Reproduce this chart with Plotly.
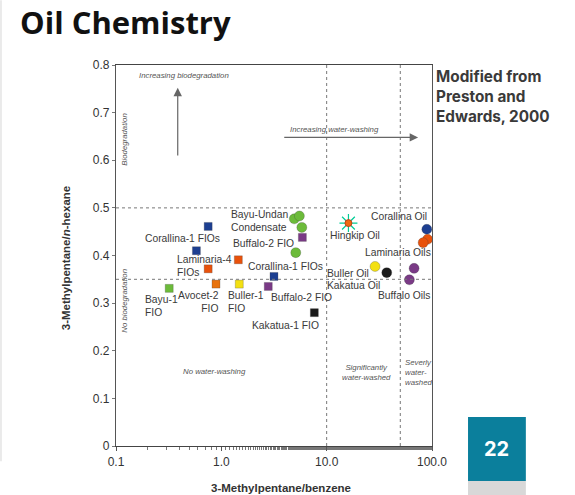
import math
import plotly.graph_objects as go

# ---- data: fluid-inclusion oils (squares) ----
fio_field = ["Corallina-1", "Corallina-1", "Laminaria-4", "Laminaria-4", "Avocet-2",
             "Buller-1", "Bayu-1", "Buffalo-2", "Corallina-1", "Buffalo-2", "Kakatua-1"]
fio_mp_benzene = [0.75, 0.58, 1.45, 0.75, 0.89, 1.48, 0.32, 2.79, 3.16, 5.88, 7.64]
fio_mp_hexane = [0.461, 0.410, 0.391, 0.372, 0.340, 0.340, 0.331, 0.335, 0.356, 0.438, 0.280]

# ---- data: produced oils and condensate (circles) ----
oil_field = ["Bayu-Undan", "Bayu-Undan", "Bayu-Undan", "Bayu-Undan", "Buller", "Kakatua",
             "Buffalo", "Buffalo", "Corallina", "Laminaria", "Laminaria"]
oil_mp_benzene = [4.93, 5.51, 5.81, 5.09, 28.8, 37.2, 67.6, 61.0, 89.3, 90.7, 82.4]
oil_mp_hexane = [0.477, 0.483, 0.459, 0.406, 0.377, 0.364, 0.373, 0.349, 0.455, 0.434, 0.427]

hingkip_mp_benzene = [16.1]
hingkip_mp_hexane = [0.468]

# thresholds separating the alteration fields
biodeg_limits = [0.35, 0.5]
washing_limits = [10, 50]

x_ticks = [0.1, 1, 10, 100]
x_tick_text = ["0.1", "1.0", "10.0", "100.0"]
y_ticks = [0, 0.1, 0.2, 0.3, 0.4, 0.5, 0.6, 0.7, 0.8]
y_tick_text = ["0", "0.1", "0.2", "0.3", "0.4", "0.5", "0.6", "0.7", "0.8"]

# ---- styling ----
field_colour = {
    "Corallina-1": "#1d3f91", "Corallina": "#1d3f91",
    "Laminaria-4": "#e8520c", "Laminaria": "#e8520c", "Avocet-2": "#e8720c",
    "Buller-1": "#f3e012", "Buller": "#f3e012",
    "Bayu-1": "#6cbb3a", "Bayu-Undan": "#6cbb3a",
    "Buffalo-2": "#7a3a86", "Buffalo": "#7a3a86",
    "Kakatua-1": "#1a1a1a", "Kakatua": "#1a1a1a",
}
LABEL_FONT = dict(family="Arial, Liberation Sans, sans-serif", size=10.3, color="#3a3a3a")
NOTE_FONT = dict(family="Arial, Liberation Sans, sans-serif", size=7.8, color="#555555")

fig = go.Figure()

fig.add_trace(go.Scatter(
    x=fio_mp_benzene, y=fio_mp_hexane, mode="markers",
    marker=dict(symbol="square", size=8,
                color=[field_colour[f] for f in fio_field],
                line=dict(color="rgba(60,60,60,0.5)", width=0.5)),
    hoverinfo="skip", showlegend=False))

fig.add_trace(go.Scatter(
    x=oil_mp_benzene, y=oil_mp_hexane, mode="markers",
    marker=dict(symbol="circle", size=10,
                color=[field_colour[f] for f in oil_field],
                line=dict(color="rgba(60,60,60,0.45)", width=0.6)),
    hoverinfo="skip", showlegend=False))

# Hingkip oil: orange core inside a red starburst
fig.add_trace(go.Scatter(
    x=hingkip_mp_benzene, y=hingkip_mp_hexane, mode="markers",
    marker=dict(symbol="asterisk-open", size=15, line=dict(color="#d8321a", width=1.2)),
    hoverinfo="skip", showlegend=False))
fig.add_trace(go.Scatter(
    x=hingkip_mp_benzene, y=hingkip_mp_hexane, mode="markers",
    marker=dict(symbol="circle", size=7, color="#ee6a12",
                line=dict(color="#b83010", width=0.8)),
    hoverinfo="skip", showlegend=False))

# dotted threshold lines
for yv in biodeg_limits:
    fig.add_shape(type="line", xref="paper", x0=0, x1=1, yref="y", y0=yv, y1=yv,
                  line=dict(color="#777777", width=1, dash="dot"))
for xv in washing_limits:
    fig.add_shape(type="line", xref="x", x0=xv, x1=xv, yref="paper", y0=0, y1=1,
                  line=dict(color="#777777", width=1, dash="dot"))

# sample labels: (text, log10 x, y, xanchor, align)
sample_labels = [
    ("Bayu-Undan<br>Condensate", 0.368, 0.472, "center", "left"),
    ("Corallina-1 FIOs", -0.373, 0.435, "center", "left"),
    ("Buffalo-2 FIO", 0.405, 0.426, "center", "left"),
    ("Laminaria-4<br>FIOs", -0.440, 0.378, "left", "left"),
    ("Corallina-1 FIOs", 0.605, 0.376, "center", "left"),
    ("Bayu-1<br>FIO", -0.744, 0.294, "left", "left"),
    ("Avocet-2<br>FIO", -0.003, 0.303, "right", "right"),
    ("Buller-1<br>FIO", 0.042, 0.303, "left", "left"),
    ("Buffalo-2 FIO", 0.757, 0.312, "center", "left"),
    ("Kakatua-1 FIO", 0.605, 0.254, "center", "left"),
    ("Hingkip Oil", 1.270, 0.442, "center", "left"),
    ("Corallina Oil", 1.685, 0.482, "center", "left"),
    ("Laminaria Oils", 1.673, 0.406, "center", "left"),
    ("Buller Oil", 1.198, 0.363, "center", "left"),
    ("Kakatua Oil", 1.257, 0.338, "center", "left"),
    ("Buffalo Oils", 1.735, 0.315, "center", "left"),
]
for text, lx, ly, xa, al in sample_labels:
    fig.add_annotation(x=lx, y=ly, xref="x", yref="y", text=text, showarrow=False,
                       xanchor=xa, yanchor="middle", align=al, font=LABEL_FONT)

# field notes
notes = [
    ("Increasing biodegradation", -0.359, 0.779, "center", "center", 0),
    ("Increasing water-washing", 1.070, 0.664, "center", "center", 0),
    ("Biodegradation", -0.915, 0.643, "center", "center", -90),
    ("No biodegradation", -0.915, 0.305, "center", "center", -90),
    ("No water-washing", -0.069, 0.156, "center", "center", 0),
    ("Significantly<br>water-washed", 1.381, 0.154, "center", "center", 0),
    ("Severly<br>water-<br>washed", 1.720, 0.155, "left", "left", 0),
]
for text, lx, ly, xa, al, ang in notes:
    fig.add_annotation(x=lx, y=ly, xref="x", yref="y", text="<i>" + text + "</i>",
                       showarrow=False, xanchor=xa, yanchor="middle", align=al,
                       textangle=ang, font=NOTE_FONT)

# trend arrows
fig.add_annotation(x=-0.414, y=0.752, ax=-0.414, ay=0.607, xref="x", yref="y",
                   axref="x", ayref="y", text="", showarrow=True, arrowhead=2,
                   arrowsize=1.4, arrowwidth=1.2, arrowcolor="#666666")
fig.add_annotation(x=1.868, y=0.648, ax=0.583, ay=0.648, xref="x", yref="y",
                   axref="x", ayref="y", text="", showarrow=True, arrowhead=2,
                   arrowsize=1.4, arrowwidth=1.2, arrowcolor="#666666")

# axis titles
fig.add_annotation(xref="paper", yref="paper", x=0.522, y=-0.110,
                   text="<b>3-Methylpentane/benzene</b>", showarrow=False,
                   xanchor="center", yanchor="middle",
                   font=dict(family="Arial, Liberation Sans, sans-serif", size=11.5, color="#333333"))
fig.add_annotation(xref="paper", yref="paper", x=-0.158, y=0.493,
                   text="<b>3-Methylpentane/<i>n</i>-hexane</b>", showarrow=False,
                   textangle=-90, xanchor="center", yanchor="middle",
                   font=dict(family="Arial, Liberation Sans, sans-serif", size=11.5, color="#333333"))

# source note
fig.add_annotation(xref="paper", yref="paper", x=1.006, y=1.0,
                   text="<b>Modified from<br>Preston and<br>Edwards, 2000</b>",
                   showarrow=False, xanchor="left", yanchor="top", align="left",
                   font=dict(family="Inter, Liberation Sans, sans-serif", size=15.3, color="#3a3a3a"))

# page number tab
fig.add_shape(type="rect", xref="paper", yref="paper", x0=1.114, x1=1.297,
              y0=-0.1286, y1=-0.0919, fillcolor="#d8d8d8", line=dict(width=0), layer="above")
fig.add_shape(type="rect", xref="paper", yref="paper", x0=1.114, x1=1.297,
              y0=-0.0919, y1=0.0761, fillcolor="#0b7f9c", line=dict(width=0), layer="above")
fig.add_annotation(xref="paper", yref="paper", x=1.2055, y=-0.008, text="<b>22</b>",
                   showarrow=False, xanchor="center", yanchor="middle",
                   font=dict(family="Inter, Liberation Sans, sans-serif", size=20, color="white"))

# faint page edge
fig.add_shape(type="line", xref="paper", yref="paper", x0=-0.364, x1=-0.364, y0=-0.04, y1=1.17,
              line=dict(color="#e4e4e4", width=1.5))

fig.update_layout(
    width=575, height=495,
    margin=dict(l=116, r=143, t=65, b=49),
    paper_bgcolor="white", plot_bgcolor="white",
    title=dict(text="<b>Oil Chemistry</b>", x=20 / 575, xanchor="left",
               y=1 - 23 / 495, yanchor="middle",
               font=dict(family="Open Sans, sans-serif", size=31, color="#111111")),
    showlegend=False,
)
fig.update_xaxes(type="log", range=[-1, 2], tickvals=x_ticks, ticktext=x_tick_text,
                 showgrid=False, zeroline=False, showline=True, mirror=True,
                 linecolor="#444444", linewidth=1.3, ticks="outside", ticklen=4,
                 tickcolor="#555555",
                 minor=dict(ticks="outside", ticklen=3, tickcolor="#777777", showgrid=False),
                 tickfont=dict(family="Arial, Liberation Sans, sans-serif", size=12, color="#333333"))
fig.update_yaxes(range=[0, 0.8], tickvals=y_ticks, ticktext=y_tick_text,
                 showgrid=False, zeroline=False, showline=True, mirror=True,
                 linecolor="#555555", linewidth=1.3, ticks="outside", ticklen=3,
                 tickcolor="#777777",
                 tickfont=dict(family="Arial, Liberation Sans, sans-serif", size=12, color="#333333"))

fig.write_html("out.html")
